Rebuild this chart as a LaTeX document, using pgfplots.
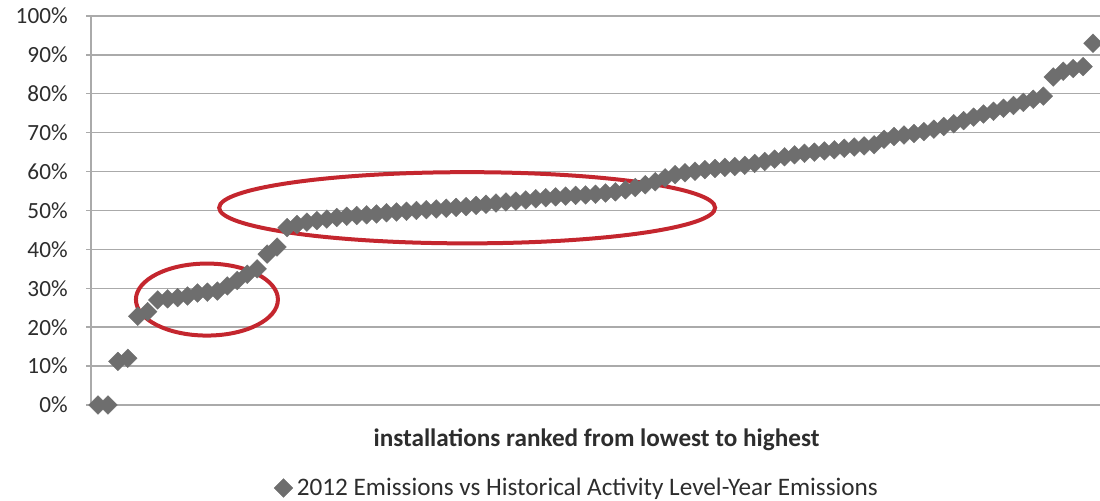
\documentclass[border=0pt]{standalone}
\usepackage{fontspec}
\setmainfont{Carlito}
\usepackage{pgfplots}
\pgfplotsset{compat=1.18}
\usepackage{pgfplotstable}

\definecolor{markgray}{RGB}{110,110,110}
\definecolor{gridgray}{RGB}{170,170,170}
\definecolor{ringred}{RGB}{196,38,46}
\definecolor{txt}{RGB}{45,45,45}

\pgfplotsset{
  single mark legend/.style={legend image code/.code={\draw[##1] plot coordinates {(0pt,0pt)};}},
}

% installations ranked from lowest to highest (share, %)
\pgfplotstableread{
rank value
0 0.0
1 0.0
2 11.2
3 12.0
4 22.8
5 24.0
6 27.0
7 27.3
8 27.6
9 28.0
10 28.8
11 29.0
12 29.3
13 30.6
14 32.0
15 33.6
16 35.0
17 38.8
18 40.6
19 45.6
20 46.4
21 47.0
22 47.4
23 47.8
24 48.2
25 48.5
26 48.7
27 48.9
28 49.1
29 49.4
30 49.6
31 49.8
32 50.0
33 50.2
34 50.4
35 50.6
36 50.8
37 51.0
38 51.3
39 51.6
40 51.9
41 52.2
42 52.4
43 52.7
44 53.0
45 53.3
46 53.5
47 53.7
48 53.9
49 54.0
50 54.2
51 54.5
52 54.8
53 55.3
54 55.9
55 56.6
56 57.4
57 58.4
58 59.2
59 59.7
60 60.1
61 60.5
62 60.8
63 61.1
64 61.3
65 61.6
66 62.1
67 62.6
68 63.2
69 63.8
70 64.3
71 64.7
72 65.0
73 65.3
74 65.6
75 66.0
76 66.3
77 66.6
78 66.9
79 68.3
80 69.0
81 69.4
82 69.8
83 70.3
84 70.9
85 71.6
86 72.3
87 73.1
88 74.0
89 74.8
90 75.5
91 76.3
92 77.0
93 77.8
94 78.6
95 79.4
96 84.3
97 85.8
98 86.5
99 87.0
100 93.0
}\ranked

\begin{document}
\begin{tikzpicture}
\useasboundingbox (-45.5pt,-48pt) rectangle (504.5pt,202.5pt);
\begin{axis}[
  at={(0,0)}, anchor=south west,
  scale only axis,
  width=504.5pt, height=194.5pt,
  xmin=-0.7, xmax=100.7,
  ymin=0, ymax=100,
  axis lines*=left,
  axis line style={gridgray, line width=0.7pt},
  xtick=\empty,
  ytick={0,10,...,100},
  yticklabel={\pgfmathprintnumber{\tick}\%},
  /pgf/number format/assume math mode=true,
  tick align=outside,
  major tick length=2.5pt,
  ytick style={gridgray, line width=0.7pt},
  ymajorgrids,
  grid style={gridgray, line width=0.7pt},
  yticklabel style={font=\fontsize{11.6}{13}\selectfont, text=txt, anchor=east, inner sep=0pt, xshift=-9pt},
  xlabel={\textbf{installations ranked from lowest to highest}},
  xlabel style={font=\fontsize{12.6}{14}\selectfont, text=txt, at={(axis description cs:0.501,0)}, anchor=base, yshift=-21pt},
  legend style={font=\fontsize{12.6}{14}\selectfont, text=txt, draw=none, fill=none, inner sep=0pt,
    at={(axis description cs:0.4827,-0.2134)}, anchor=center,
    /tikz/every even column/.append style={column sep=0pt}},
]
\addplot[only marks, mark=square*, mark size=3.3pt,
  mark options={rotate=45, fill=markgray, draw=markgray, line width=0.2pt},
  single mark legend]
  table[x=rank, y=value] {\ranked};
\addlegendentry{2012 Emissions vs Historical Activity Level-Year Emissions}

% highlighted regions
\draw[ringred, line width=2pt] (axis cs:10.95,27.1) ellipse [x radius=35.5pt, y radius=18pt];
\draw[ringred, line width=2pt] (axis cs:37.1,50.7) ellipse [x radius=124pt, y radius=17.8pt];
\end{axis}
\end{tikzpicture}
\end{document}
